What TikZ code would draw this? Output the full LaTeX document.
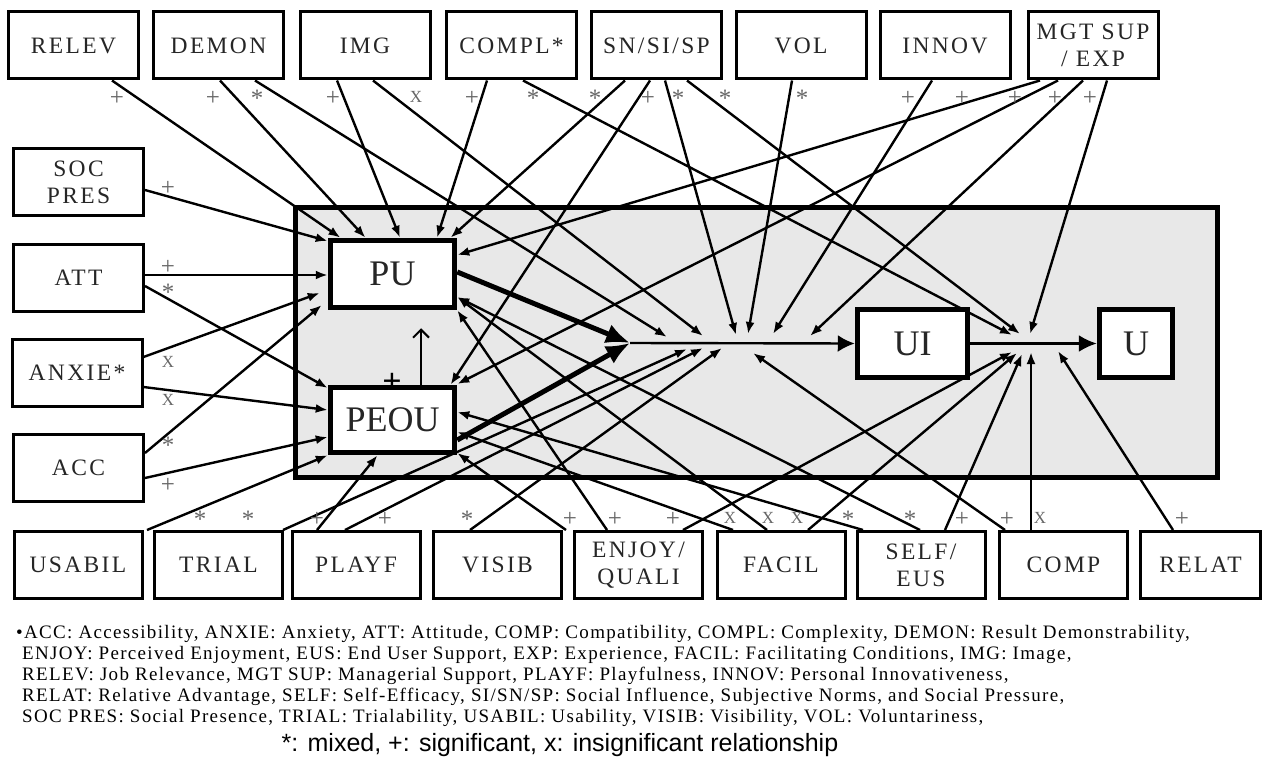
\documentclass[tikz,border=0pt]{standalone}
\usepackage{fontspec}
\setmainfont{Liberation Serif}
\newfontfamily\boxfont[LetterSpace=10]{Liberation Serif}
\newfontfamily\legfont[LetterSpace=7]{Liberation Serif}
\newfontfamily\keyfont{Liberation Sans}
\usetikzlibrary{arrows.meta,calc}

\begin{document}
\begin{tikzpicture}[x=1pt,y=-1pt,
  src/.style={draw, line width=3pt, minimum width=130pt, minimum height=67pt,
    inner sep=1pt, align=center, fill=white, text=black!85,
    font=\boxfont\fontsize{23.5}{27}\selectfont},
  core/.style={draw, line width=5.5pt, fill=white, text=black!85,
    font=\fontsize{36}{38}\selectfont},
  conn/.style={line width=2.4pt, -{Latex[length=12pt,width=9pt]}},
  thick conn/.style={line width=5pt, -{Latex[length=24pt,width=20pt]}},
  relmark/.style={text=black!60, inner sep=0pt, font=\fontsize{25}{25}\selectfont},
  xrel/.style={text=black!60, inner sep=0pt, font=\fontsize{17}{17}\selectfont},
  legend/.style={anchor=base west, inner sep=0pt, font=\legfont\fontsize{19}{20}\selectfont},
]
\useasboundingbox (0,0) rectangle (1265,757);

% ---------- model frame ----------
\node[draw, line width=5pt, fill=black!9, minimum width=922pt, minimum height=270pt,
      inner sep=0pt] (model) at (756.5,342.5) {};

% ---------- core constructs ----------
\node[core, minimum width=124pt, minimum height=67pt] (pu)   at (392.5,274) {PU};
\node[core, minimum width=124pt, minimum height=65pt] (peou) at (392.5,420) {PEOU};
\node[core, minimum width=110pt, minimum height=68pt] (ui)   at (912.5,343.5) {UI};
\node[core, minimum width=73pt,  minimum height=68pt] (u)    at (1136,343.5) {U};

% ---------- external variables: top row ----------
\node[src] (relev) at (73.5,45.5)  {RELEV};
\node[src] (demon) at (218.5,45.5) {DEMON};
\node[src] (img)   at (365,45.5)   {IMG};
\node[src] (compl) at (511.5,45.5) {COMPL*};
\node[src] (sn)    at (656.5,45.5) {SN/SI/SP};
\node[src] (vol)   at (801,45.5)   {VOL};
\node[src] (innov) at (945,45.5)   {INNOV};
\node[src] (mgt)   at (1093,45.5)  {MGT SUP\\/ EXP};

% ---------- external variables: left column ----------
\node[src] (soc) at (78.5,182) {SOC\\PRES};
\node[src] (att) at (78.5,278) {ATT};
\node[src] (anx) at (77,373)   {ANXIE*};
\node[src] (acc) at (78.5,468) {ACC};

% ---------- external variables: bottom row ----------
\node[src, minimum width=128pt] (usabil) at (78,565)    {USABIL};
\node[src, minimum width=128pt] (trial)  at (218.5,565) {TRIAL};
\node[src, minimum width=128pt] (playf)  at (356,565)   {PLAYF};
\node[src, minimum width=128pt] (visib)  at (497.5,565) {VISIB};
\node[src, minimum width=128pt] (enjoy)  at (638.5,565) {ENJOY/\\QUALI};
\node[src, minimum width=128pt] (facil)  at (781,565)   {FACIL};
\node[src, minimum width=128pt] (self)   at (921,565)   {SELF/\\EUS};
\node[src, minimum width=128pt] (comp)   at (1063.5,565){COMP};
\node[src, minimum width=120pt] (relat)  at (1200.5,565){RELAT};

% ---------- junctions ----------
\coordinate (dia) at (630,343);
\coordinate (j2)  at (1027,343);
% tips on the PU/PEOU -> UI path
\coordinate (a1) at (667,337);
\coordinate (a2) at (703,336);
\coordinate (a3) at (736,335);
\coordinate (a4) at (748,334);
\coordinate (a5) at (773,334);
\coordinate (a6) at (810,336);
\coordinate (b1) at (687,349);
\coordinate (b2) at (703,348);
\coordinate (b3) at (722,348);
\coordinate (b4) at (753,353);
% tips on the UI -> U path
\coordinate (c1) at (1012,335);
\coordinate (c2) at (1020,334);
\coordinate (c3) at (1030,334);
\coordinate (c4) at (1012,352);
\coordinate (c5) at (1017,353);
\coordinate (c6) at (1022,354);
\coordinate (c7) at (1031,352);
\coordinate (c8) at (1058,351);

% ---------- core paths ----------
\draw[thick conn] ([yshift=2]pu.east) -- (dia);
\draw[thick conn] ([yshift=-20]peou.east) -- (dia);
\draw[line width=2.4pt, -{Latex[length=17pt,width=17pt]}] (dia) -- (ui.west);
\draw[line width=2.4pt, -{Latex[length=18pt,width=17pt]}] (ui.east) -- (u.west);
\draw[line width=2pt, -{Straight Barb[length=8pt,width=16pt]}]
  ([xshift=28.5]peou.north) -- ([xshift=28.5,yshift=-18]pu.south);
\node[inner sep=0pt, font=\fontsize{34}{34}\selectfont\bfseries] (peoupu) at (392,383) {+};

% ---------- top row links ----------
\draw[conn] ([xshift=38.5]relev.south) -- ([xshift=-52]pu.north);
\draw[conn] ([xshift=1.5]demon.south)  -- ([xshift=-27]pu.north);
\draw[conn] ([xshift=36.5]demon.south) -- (a1);
\draw[conn] ([xshift=-28]img.south)    -- ([xshift=7.5]pu.north);
\draw[conn] ([xshift=8]img.south)      -- (a2);
\draw[conn] ([xshift=-24.5]compl.south)-- ([xshift=44.5]pu.north);
\draw[conn] ([xshift=11.5]compl.south) -- (c1);
\draw[conn] ([xshift=-31.5]sn.south)   -- ([xshift=58]pu.north);
\draw[conn] ([xshift=-6.5]sn.south)    -- ([xshift=58]peou.north);
\draw[conn] ([xshift=8.5]sn.south)     -- (a3);
\draw[conn] ([xshift=30.5]sn.south)    -- (c2);
\draw[conn] ([xshift=-9]vol.south)     -- (a4);
\draw[conn] ([xshift=-13]innov.south)  -- (a5);
\draw[conn] ([xshift=-53]mgt.south)    -- ([yshift=19]pu.east);
\draw[conn] ([xshift=-35]mgt.south)    -- ([yshift=36]peou.east);
\draw[conn] ([xshift=-10]mgt.south)    -- (a6);
\draw[conn] ([xshift=14]mgt.south)     -- (c3);

% ---------- left column links ----------
\draw[conn] ([yshift=-8]soc.east)  -- ([yshift=33]pu.west);
\draw[conn] ([yshift=3]att.east)   -- ([yshift=-1]pu.west);
\draw[conn] ([yshift=-8]att.east)  -- ([yshift=32]peou.west);
\draw[conn] ([yshift=16]anx.east)  -- ([xshift=-8,yshift=-19]pu.west);
\draw[conn] ([yshift=-14]anx.east) -- ([yshift=10]peou.west);
\draw[conn] ([yshift=15]acc.east)  -- ([xshift=-6,yshift=-31]pu.west);
\draw[conn] ([yshift=-10]acc.east) -- ([yshift=-17]peou.west);

% ---------- bottom row links ----------
\draw[conn] ([xshift=69]usabil.north) -- (peou.south west);
\draw[conn] ([xshift=64.5]trial.north) -- (b1);
\draw[conn] ([xshift=-39]playf.north) -- ([xshift=-15]peou.south);
\draw[conn] ([xshift=-11]playf.north) -- (b2);
\draw[conn] ([xshift=-27.5]visib.north) -- (b3);
\draw[conn] ([xshift=-72.5]enjoy.north) -- ([yshift=-33]peou.east);
\draw[conn] ([xshift=-31.5]enjoy.north) -- (pu.south east);
\draw[conn] ([xshift=44.5]enjoy.north) -- (c4);
\draw[conn] ([xshift=-48]facil.north) -- ([yshift=-12]peou.east);
\draw[conn] ([xshift=-14]facil.north) -- ([yshift=-23]pu.east);
\draw[conn] ([xshift=27]facil.north)  -- (c5);
\draw[conn] ([xshift=-58]self.north)  -- ([yshift=8]peou.east);
\draw[conn] ([xshift=-1]self.north)   -- ([yshift=-23]pu.east);
\draw[conn] ([xshift=24]self.north)   -- (c6);
\draw[conn] ([xshift=-58.5]comp.north) -- (b4);
\draw[conn] ([xshift=-32.5]comp.north) -- (c7);
\draw[conn] ([xshift=-27.5]relat.north) -- (c8);

% ---------- relationship marks ----------
\foreach \px/\sym [count=\i] in {117/+,213/+,257/*,333/+,472/+,533/*,595/*,648/+,678/*,725/*,
    802/*,908/+,962/+,1015/+,1055/+,1090/+}
  \node[relmark] (t\i) at (\px,98) {\sym};
\node[xrel] (tx) at (416,97) {X};
\foreach \py/\sym [count=\i] in {188/+,267/+,292/*,445/*,485/+}
  \node[relmark] (l\i) at (168,\py) {\sym};
\node[xrel] (lx1) at (168,362) {X};
\node[xrel] (lx2) at (168,400) {X};
\foreach \px/\sym [count=\i] in {200/*,248/*,317/+,385/+,467/*,570/+,615/+,673/+,848/*,910/*,
    962/+,1007/+,1182/+}
  \node[relmark] (b\i) at (\px,519) {\sym};
\foreach \px [count=\i] in {730,768,797,1040}
  \node[xrel] (bx\i) at (\px,518) {X};

% ---------- legend ----------
\node[legend] (leg1) at (16,638) {\textbullet ACC: Accessibility, ANXIE: Anxiety, ATT: Attitude, COMP: Compatibility, COMPL: Complexity, DEMON: Result Demonstrability,};
\node[legend] (leg2) at (22,659) {ENJOY: Perceived Enjoyment, EUS: End User Support, EXP: Experience, FACIL: Facilitating Conditions, IMG: Image,};
\node[legend] (leg3) at (22,680) {RELEV: Job Relevance, MGT SUP: Managerial Support, PLAYF: Playfulness, INNOV: Personal Innovativeness,};
\node[legend] (leg4) at (22,701) {RELAT: Relative Advantage, SELF: Self-Efficacy, SI/SN/SP: Social Influence, Subjective Norms, and Social Pressure,};
\node[legend] (leg5) at (22,722) {SOC PRES: Social Presence, TRIAL: Trialability, USABIL: Usability, VISIB: Visibility, VOL: Voluntariness,};
\node[inner sep=0pt, font=\keyfont\fontsize{25}{27}\selectfont] (key) at (560,745)
  {*: mixed, +: significant, x: insignificant relationship};
\end{tikzpicture}
\end{document}
